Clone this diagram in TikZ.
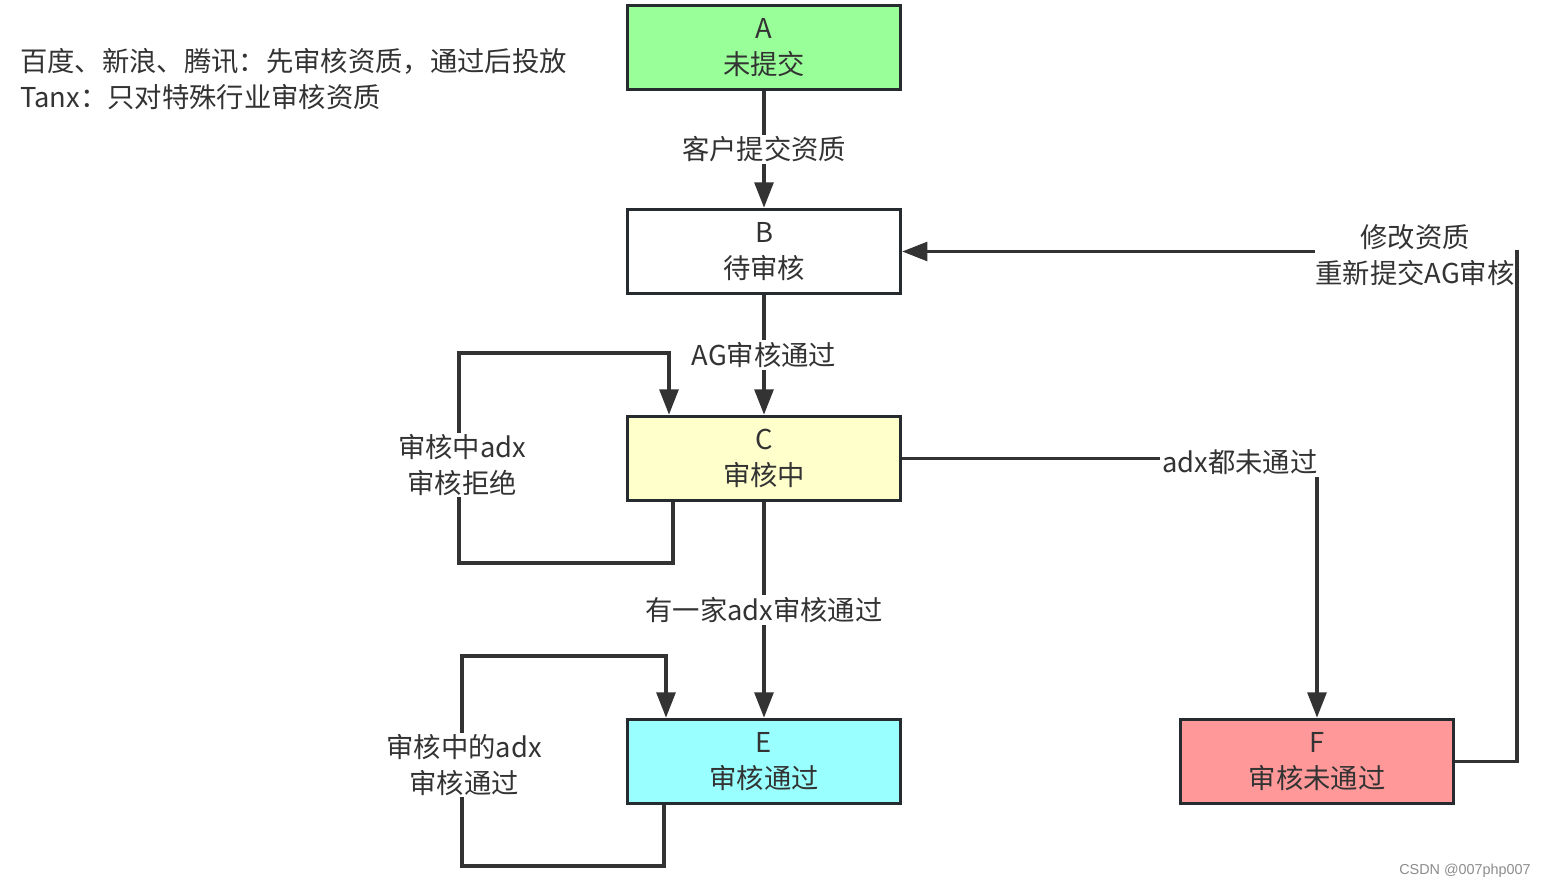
\documentclass[tikz,border=0pt]{standalone}
\usepackage{fontspec}
\setmainfont{Noto Sans CJK SC}
\newfontfamily\wmfont{Liberation Sans}
\usetikzlibrary{arrows.meta,calc}
\definecolor{cA}{HTML}{99FF99}
\definecolor{cC}{HTML}{FFFFCC}
\definecolor{cE}{HTML}{99FFFF}
\definecolor{cF}{HTML}{FF9999}
\definecolor{bord}{HTML}{262B30}
\definecolor{ln}{HTML}{333333}
\tikzset{
  stbox/.style={draw=bord, line width=2.6pt, minimum width=204.5pt, minimum height=63pt,
    align=center, font=\fontsize{20.5}{26.5}\selectfont, text=ln, inner sep=0pt},
  conn/.style={draw=ln, line width=2.8pt},
  arr/.style={conn, -{Triangle[length=19pt,width=14pt]}},
  lab/.style={fill=white, inner sep=1.5pt, align=center, font=\fontsize{20.5}{26.5}\selectfont, text=ln},
}
\begin{document}
\begin{tikzpicture}[x=0.75pt,y=-0.75pt]
\useasboundingbox (0,0) rectangle (1546,888);
\node[stbox, fill=cA] (A) at (764,47.5) {A\\未提交};
\node[stbox, fill=white] (B) at (764,251.5) {B\\待审核};
\node[stbox, fill=cC] (C) at (764,458.5) {C\\审核中};
\node[stbox, fill=cE] (E) at (764,761.5) {E\\审核通过};
\node[stbox, fill=cF] (F) at (1317,761.5) {F\\审核未通过};

% A -> B
\draw[arr] (A) -- (B) node[midway, lab] {客户提交资质};
% B -> C
\draw[arr] (B) -- (C) node[midway, lab] {AG审核通过};
% C -> E
\draw[arr] (C) -- (E) node[midway, lab] {有一家adx审核通过};
% C -> F
\draw[arr] (C.east) -| (F.north);
\node[lab] (lcf) at (1240,462) {adx都未通过};
% F -> B
\coordinate (fb1) at (1517,761.5);
\coordinate (fb2) at (1517,251.5);
\draw[arr] (F.east) -- (fb1) -- (fb2) -- (B.east);
\node[lab, inner sep=0.5pt] (lfb) at (1415,255) {修改资质\\重新提交AG审核};

% C self loop
\coordinate (c1) at (673,563);
\coordinate (c2) at (459,563);
\coordinate (c3) at (459,353);
\coordinate (c4) at (669,353);
\draw[arr] (c1 |- C.south) -- (c1) -- (c2) -- (c3) -- (c4) -- (c4 |- C.north);
\node[lab] (lc) at (462,465) {审核中adx\\审核拒绝};

% E self loop
\coordinate (e1) at (664,866);
\coordinate (e2) at (462,866);
\coordinate (e3) at (462,656);
\coordinate (e4) at (666,656);
\draw[arr] (e1 |- E.south) -- (e1) -- (e2) -- (e3) -- (e4) -- (e4 |- E.north);
\node[lab] (le) at (464,765) {审核中的adx\\审核通过};

% notes
\node[anchor=west, align=left, text=ln, font=\fontsize{20.5}{26.5}\selectfont, inner sep=0pt] (note) at (20,79)
  {百度、新浪、腾讯：先审核资质，通过后投放\\Tanx：只对特殊行业审核资质};
\node[text=black!45, font=\wmfont\fontsize{10.8}{12}\selectfont, inner sep=0pt] (wm) at (1465,871) {CSDN @007php007};
\end{tikzpicture}
\end{document}
